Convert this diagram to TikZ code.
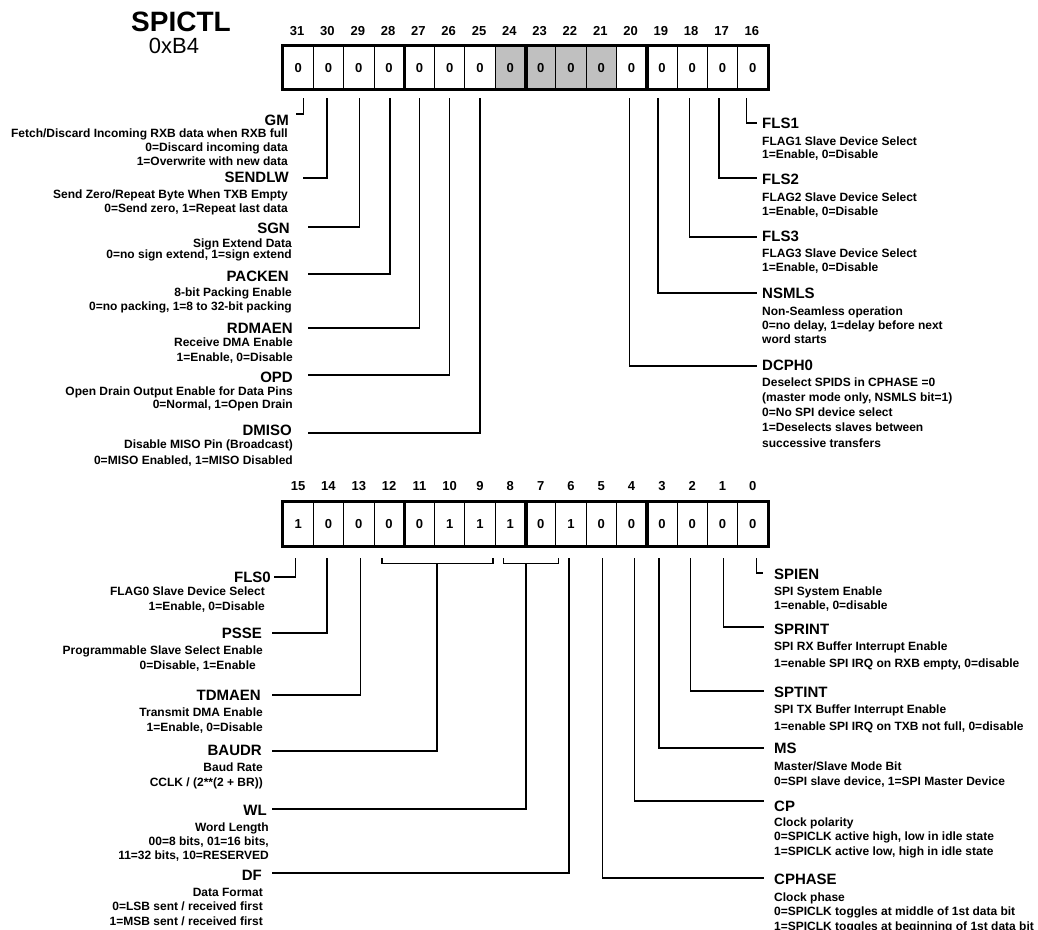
\documentclass[tikz,border=0pt]{standalone}
\usepackage{fontspec}
\setmainfont{Liberation Sans}
\definecolor{cellgray}{RGB}{192,192,192}
\begin{document}
\begin{tikzpicture}[x=1pt,y=-1pt,
  cell/.style={draw=black, line width=0.8pt, minimum width=30.3125pt, minimum height=43.5pt, inner sep=0pt, text height=9.3pt, text depth=0pt, font=\fontsize{13}{13}\selectfont\bfseries},
  bitnum/.style={inner sep=0pt, anchor=base, font=\fontsize{13}{13}\selectfont\bfseries},
  outer/.style={line width=3pt},
  sepline/.style={line width=3.5pt},
  conn/.style={line width=1.2pt},
  ttl/.style={inner sep=0pt, font=\fontsize{15}{15}\selectfont\bfseries},
  ttll/.style={ttl, anchor=base east},
  ttlr/.style={ttl, anchor=base west},
  dl/.style={inner sep=0pt, align=right, anchor=base east, font=\fontsize{12}{#1}\selectfont\bfseries},
  dr/.style={inner sep=0pt, align=left, anchor=base west, font=\fontsize{12}{#1}\selectfont\bfseries},
]
\useasboundingbox (0,0) rectangle (1038,929);

% title
\node[inner sep=0pt, font=\fontsize{28}{28}\selectfont\bfseries] (title) at (181,22) {SPICTL};
\node[inner sep=0pt, font=\fontsize{22}{22}\selectfont] (addr) at (174,46) {0xB4};

% upper register
\foreach \b/\f [count=\i from 0] in {31/white,30/white,29/white,28/white,27/white,26/white,25/white,24/cellgray,23/cellgray,22/cellgray,21/cellgray,20/white,19/white,18/white,17/white,16/white} {
  \node[cell, fill=\f] (c\b) at ({283+(\i+0.5)*30.3125}, 67.75) {0};
  \node[bitnum] (n\b) at ({283+(\i+0.5)*30.3125-1}, 35.5) {\b};
}
\draw[outer] (c31.north west) rectangle (c16.south east);
\foreach \b in {28,24,20} \draw[sepline] (c\b.north east) -- (c\b.south east);

% lower register
\foreach \b/\v [count=\i from 0] in {15/1,14/0,13/0,12/0,11/0,10/1,9/1,8/1,7/0,6/1,5/0,4/0,3/0,2/0,1/0,0/0} {
  \node[cell] (c\b) at ({283+(\i+0.5)*30.3125}, 524) {\v};
  \node[bitnum] (n\b) at ({283+(\i+0.5)*30.3125}, 490.5) {\b};
}
\draw[outer] (c15.north west) rectangle (c0.south east);
\foreach \b in {12,8,4} \draw[sepline] (c\b.north east) -- (c\b.south east);

% ---------- upper left labels (description nodes anchored at last baseline)
\node[ttll] (GM) at (289,125) {GM};
\node[dl=14] (GMd) at (288,165) {Fetch/Discard Incoming RXB data when RXB full\\0=Discard incoming data\\1=Overwrite with new data};
\node[ttll] (SENDLW) at (289,182) {SENDLW};
\node[dl=14] (SENDLWd) at (288,212) {Send Zero/Repeat Byte When TXB Empty\\0=Send zero, 1=Repeat last data};
\node[ttll] (SGN) at (290,233) {SGN};
\node[dl=11.5] (SGNd) at (292,258.5) {Sign Extend Data\\0=no sign extend, 1=sign extend};
\node[ttll] (PACKEN) at (289,281) {PACKEN};
\node[dl=14] (PACKENd) at (292,310) {8-bit Packing Enable\\0=no packing, 1=8 to 32-bit packing};
\node[ttll] (RDMAEN) at (293,333) {RDMAEN};
\node[dl=15] (RDMAENd) at (293,361) {Receive DMA Enable\\1=Enable, 0=Disable};
\node[ttll] (OPD) at (293,382) {OPD};
\node[dl=13] (OPDd) at (293,408) {Open Drain Output Enable for Data Pins\\0=Normal, 1=Open Drain};
\node[ttll] (DMISO) at (292,435) {DMISO};
\node[dl=16] (DMISOd) at (293,464) {Disable MISO Pin (Broadcast)\\0=MISO Enabled, 1=MISO Disabled};

\coordinate (eGM) at (296,114);
\coordinate (eSENDLW) at (303,178);
\coordinate (eSGN) at (308,227);
\coordinate (ePACKEN) at (308,274);
\coordinate (eRDMAEN) at (308,328);
\coordinate (eOPD) at (308,375);
\coordinate (eDMISO) at (308,433);
\draw[conn] ([shift={(5,8.5)}]c31.south) |- (eGM);
\draw[conn] ([shift={(-1.5,8.5)}]c30.south) |- (eSENDLW);
\draw[conn] ([shift={(1,8.5)}]c29.south) |- (eSGN);
\draw[conn] ([shift={(1,8.5)}]c28.south) |- (ePACKEN);
\draw[conn] ([shift={(0,8.5)}]c27.south) |- (eRDMAEN);
\draw[conn] ([shift={(0,8.5)}]c26.south) |- (eOPD);
\draw[conn] ([shift={(0,8.5)}]c25.south) |- (eDMISO);

% ---------- upper right labels
\node[ttlr] (FLS1) at (762,128) {FLS1};
\node[dr=13] (FLS1d) at (762,158) {FLAG1 Slave Device Select\\1=Enable, 0=Disable};
\node[ttlr] (FLS2) at (762,184) {FLS2};
\node[dr=14] (FLS2d) at (762,215) {FLAG2 Slave Device Select\\1=Enable, 0=Disable};
\node[ttlr] (FLS3) at (762,241) {FLS3};
\node[dr=14] (FLS3d) at (762,271) {FLAG3 Slave Device Select\\1=Enable, 0=Disable};
\node[ttlr] (NSMLS) at (762,298) {NSMLS};
\node[dr=14] (NSMLSd) at (762,343) {Non-Seamless operation\\0=no delay, 1=delay before next\\word starts};
\node[ttlr] (DCPH0) at (762,370) {DCPH0};
\node[dr=15.25] (DCPH0d) at (762,447) {Deselect SPIDS in CPHASE =0\\(master mode only, NSMLS bit=1)\\0=No SPI device select\\1=Deselects slaves between\\successive transfers};

\coordinate (eFLS1) at (757,123);
\coordinate (eFLS2) at (757,178);
\coordinate (eFLS3) at (757,237);
\coordinate (eNSMLS) at (757,293);
\coordinate (eDCPH0) at (757,366);
\draw[conn] ([shift={(-6,8.5)}]c16.south) |- (eFLS1);
\draw[conn] ([shift={(-3.5,8.5)}]c17.south) |- (eFLS2);
\draw[conn] ([shift={(-3,8.5)}]c18.south) |- (eFLS3);
\draw[conn] ([shift={(-4,8.5)}]c19.south) |- (eNSMLS);
\draw[conn] ([shift={(-2,8.5)}]c20.south) |- (eDCPH0);

% ---------- lower left labels
\node[ttll] (FLS0) at (271,582) {FLS0};
\node[dl=15] (FLS0d) at (265,610) {FLAG0 Slave Device Select\\1=Enable, 0=Disable};
\node[ttll] (PSSE) at (262,638) {PSSE};
\node[dl=15] (PSSEd) at (263,669) {Programmable Slave Select Enable\\0=Disable, 1=Enable\hspace*{7pt}};
\node[ttll] (TDMAEN) at (261,700) {TDMAEN};
\node[dl=15] (TDMAENd) at (263,731) {Transmit DMA Enable\\1=Enable, 0=Disable};
\node[ttll] (BAUDR) at (262,755) {BAUDR};
\node[dl=15] (BAUDRd) at (263,786) {Baud Rate\\CCLK / (2**(2 + BR))};
\node[ttll] (WL) at (267,815) {WL};
\node[dl=14] (WLd) at (269,859) {Word Length\\00=8 bits, 01=16 bits,\\11=32 bits, 10=RESERVED};
\node[ttll] (DF) at (262,880) {DF};
\node[dl=14.5] (DFd) at (263,925) {Data Format\\0=LSB sent / received first\\1=MSB sent / received first};

\coordinate (eFLS0) at (274,577);
\coordinate (ePSSE) at (272,633);
\coordinate (eTDMAEN) at (272,695);
\coordinate (eBAUDR) at (272,751);
\coordinate (eWL) at (272,809);
\coordinate (eDF) at (272,873);
\draw[conn] ([shift={(-3,12)}]c15.south) |- (eFLS0);
\draw[conn] ([shift={(-1.5,12)}]c14.south) |- (ePSSE);
\draw[conn] ([shift={(2,12)}]c13.south) |- (eTDMAEN);
% brackets
\draw[conn] ([shift={(-7,12)}]c12.south) -- ++(0,5) -- ([shift={(13,17)}]c9.south) -- ++(0,-5);
\coordinate (bA) at (437,563);
\draw[conn] (bA) |- (eBAUDR);
\draw[conn] ([shift={(-7,12)}]c8.south) -- ++(0,5) -- ([shift={(18,17)}]c7.south) -- ++(0,-5);
\coordinate (bW) at (526,563);
\draw[conn] (bW) |- (eWL);
\draw[conn] ([shift={(-2,12)}]c6.south) |- (eDF);

% ---------- lower right labels
\node[ttlr] (SPIEN) at (774,579) {SPIEN};
\node[dr=14] (SPIENd) at (774,609) {SPI System Enable\\1=enable, 0=disable};
\node[ttlr] (SPRINT) at (774,634) {SPRINT};
\node[dr=17] (SPRINTd) at (774,667) {SPI RX Buffer Interrupt Enable\\1=enable SPI IRQ on RXB empty, 0=disable};
\node[ttlr] (SPTINT) at (774,697) {SPTINT};
\node[dr=17] (SPTINTd) at (774,730) {SPI TX Buffer Interrupt Enable\\1=enable SPI IRQ on TXB not full, 0=disable};
\node[ttlr] (MS) at (774,753) {MS};
\node[dr=15] (MSd) at (774,785) {Master/Slave Mode Bit\\0=SPI slave device, 1=SPI Master Device};
\node[ttlr] (CP) at (774,811) {CP};
\node[dr=14.5] (CPd) at (774,855) {Clock polarity\\0=SPICLK active high, low in idle state\\1=SPICLK active low, high in idle state};
\node[ttlr] (CPHASE) at (774,884) {CPHASE};
\node[dr=14.5] (CPHASEd) at (774,930) {Clock phase\\0=SPICLK toggles at middle of 1st data bit\\1=SPICLK toggles at beginning of 1st data bit};

\coordinate (eSPIEN) at (763,573);
\coordinate (eSPRINT) at (764,627);
\coordinate (eSPTINT) at (764,691);
\coordinate (eMS) at (764,748);
\coordinate (eCP) at (764,801);
\coordinate (eCPHASE) at (764,878);
\draw[conn] ([shift={(4,12)}]c0.south) |- (eSPIEN);
\draw[conn] ([shift={(1,12)}]c1.south) |- (eSPRINT);
\draw[conn] ([shift={(-1.5,12)}]c2.south) |- (eSPTINT);
\draw[conn] ([shift={(-3,12)}]c3.south) |- (eMS);
\draw[conn] ([shift={(3,12)}]c4.south) |- (eCP);
\draw[conn] ([shift={(1,12)}]c5.south) |- (eCPHASE);
\end{tikzpicture}
\end{document}
